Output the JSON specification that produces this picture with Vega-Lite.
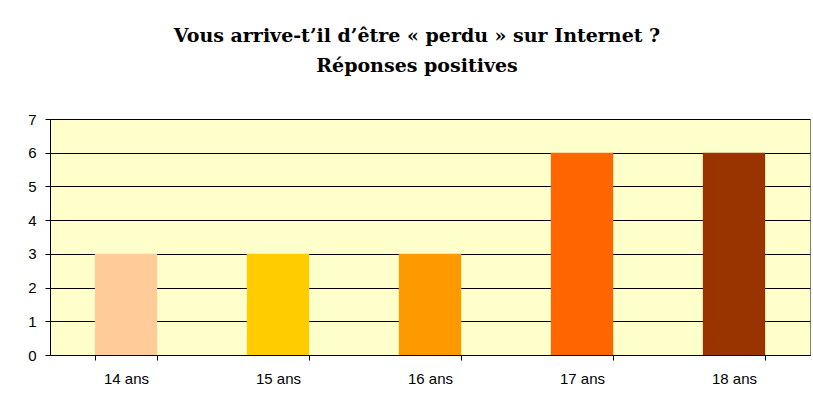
{
  "$schema": "https://vega.github.io/schema/vega-lite/v6.json",
  "autosize": {"type": "none"},
  "width": 760,
  "height": 236,
  "padding": {"left": 50, "top": 119, "right": 3, "bottom": 54},
  "background": "#ffffff",
  "title": {
    "text": ["Vous arrive-t’il d’être « perdu » sur Internet ?", "Réponses positives"],
    "font": "DejaVu Serif",
    "fontSize": 19,
    "fontWeight": "bold",
    "color": "#000000",
    "anchor": "middle",
    "frame": "group",
    "dx": -13,
    "lineHeight": 30,
    "offset": 36
  },
  "data": {
    "values": [
      {"age": "14 ans", "n": 3},
      {"age": "15 ans", "n": 3},
      {"age": "16 ans", "n": 3},
      {"age": "17 ans", "n": 6},
      {"age": "18 ans", "n": 6}
    ]
  },
  "mark": {"type": "bar"},
  "encoding": {
    "x": {
      "field": "age",
      "type": "nominal",
      "sort": null,
      "scale": {"paddingInner": 0.59, "paddingOuter": 0.295},
      "axis": {
        "title": null,
        "labelAngle": 0,
        "tickBand": "extent",
        "labelFont": "Liberation Sans",
        "labelFontSize": 15,
        "labelColor": "#000000",
        "labelPadding": 11,
        "domainColor": "#000000",
        "tickColor": "#000000",
        "tickSize": 5,
        "grid": false
      }
    },
    "y": {
      "field": "n",
      "type": "quantitative",
      "scale": {"domain": [0, 7]},
      "axis": {
        "title": null,
        "values": [0, 1, 2, 3, 4, 5, 6, 7],
        "labelFont": "Liberation Sans",
        "labelFontSize": 15,
        "labelColor": "#000000",
        "labelPadding": 9,
        "domainColor": "#000000",
        "tickColor": "#000000",
        "tickSize": 5,
        "grid": true,
        "gridColor": "#000000",
        "gridOpacity": 1
      }
    },
    "color": {
      "field": "age",
      "type": "nominal",
      "scale": {
        "domain": ["14 ans", "15 ans", "16 ans", "17 ans", "18 ans"],
        "range": ["#FFCC99", "#FFCC00", "#FF9900", "#FF6600", "#993300"]
      },
      "legend": null
    }
  },
  "config": {
    "view": {"fill": "#FFFFCC", "stroke": "#808080", "strokeWidth": 1}
  }
}
